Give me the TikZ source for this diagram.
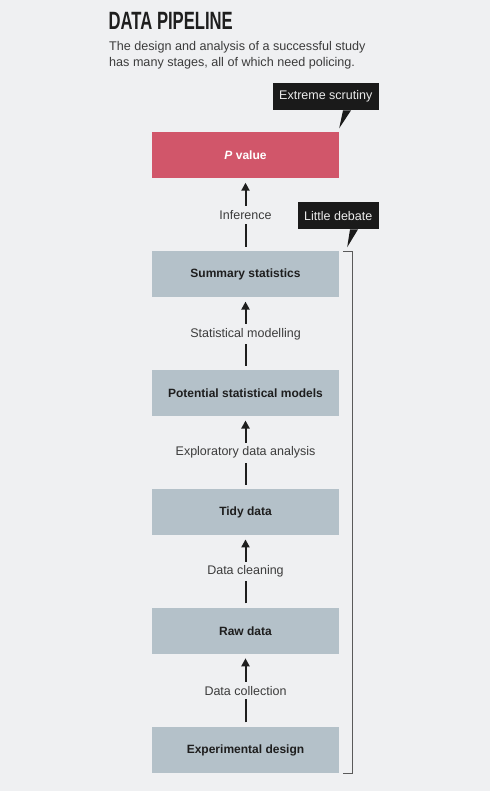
\documentclass[tikz,border=0pt]{standalone}
\usepackage{fontspec}
\setmainfont{Liberation Sans}
\usepackage{tikz}
\usetikzlibrary{arrows.meta,positioning}
\definecolor{pagebg}{HTML}{EFF0F2}
\definecolor{pvalred}{HTML}{D1566A}
\definecolor{stagegray}{HTML}{B4C1C9}
\definecolor{inkdark}{HTML}{1E1E1E}
\definecolor{labelgray}{HTML}{3C3C3C}
\definecolor{calloutbg}{HTML}{1A1A1A}
\definecolor{bracketgray}{HTML}{5A5A5A}

\begin{document}
\begin{tikzpicture}[
  x=1pt, y=-1pt,
  font=\fontsize{12.5}{15}\selectfont,
  node distance=72.5pt,
  stagebox/.style={fill=stagegray,minimum width=187pt,minimum height=46pt,inner sep=0pt,font=\fontsize{12}{14}\selectfont\bfseries,text=inkdark},
  stagelbl/.style={fill=pagebg,inner xsep=3pt,inner ysep=4pt,text=labelgray},
  callout/.style={fill=calloutbg,text=white!92!black,minimum height=27pt,inner xsep=6.5pt,inner ysep=0pt},
  arr/.style={-{Triangle[length=8pt,width=8pt]},line width=2pt,draw=inkdark,shorten <=4.5pt,shorten >=4pt},
  brk/.style={draw=bracketgray,line width=0.9pt}
]
\fill[pagebg] (0,0) rectangle (490,791);
\useasboundingbox (0,0) rectangle (490,791);

% heading
\node[anchor=north west,inner sep=0pt,text=inkdark] (title) at (108.5,12.5)
  {\scalebox{0.665}[1]{\fontsize{25}{25}\selectfont\bfseries DATA PIPELINE}};
\node[anchor=north west,inner sep=0pt,align=left,text=labelgray,font=\fontsize{12.6}{16}\selectfont] (subtitle) at (109,41)
  {The design and analysis of a successful study\\has many stages, all of which need policing.};

% stages
\node[stagebox,fill=pvalred,text=white] (pval) at (245.5,155.5) {{\itshape P} value};
\node[stagebox,below=of pval] (summ) {Summary statistics};
\node[stagebox,below=of summ] (models) {Potential statistical models};
\node[stagebox,below=of models] (tidy) {Tidy data};
\node[stagebox,below=of tidy] (raw) {Raw data};
\node[stagebox,below=of raw] (expd) {Experimental design};

\foreach \a/\b/\t in {expd/raw/Data collection,raw/tidy/Data cleaning,tidy/models/Exploratory data analysis,models/summ/Statistical modelling,summ/pval/Inference}
  \draw[arr] (\a) -- node[stagelbl] {\t} (\b);

% callouts
\node[callout,anchor=north east] (scrutiny) at (379,83) {Extreme scrutiny};
\coordinate (scrutinytip) at ([yshift=4pt]pval.north east);
\fill[calloutbg] ([xshift=-36pt]scrutiny.south east) -- ([xshift=-28pt]scrutiny.south east) -- (scrutinytip) -- cycle;

\node[callout,anchor=north east] (debate) at (379,202) {Little debate};
\coordinate (debatetip) at ([xshift=8pt,yshift=4pt]summ.north east);
\fill[calloutbg] ([xshift=-29pt]debate.south east) -- ([xshift=-21pt]debate.south east) -- (debatetip) -- cycle;

% bracket
\draw[brk] ([xshift=4pt]summ.north east) -- ++(9,0) |- ([xshift=4pt]expd.south east);
\end{tikzpicture}
\end{document}
